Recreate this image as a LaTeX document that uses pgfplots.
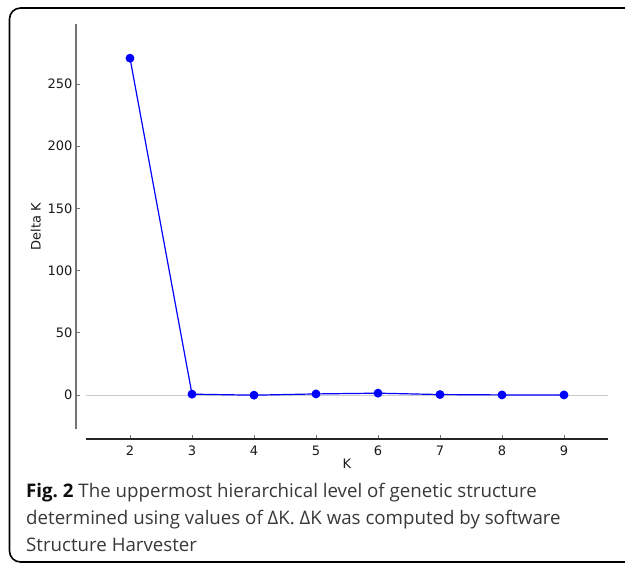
\documentclass[border=0pt]{standalone}
\usepackage{pgfplots}
\pgfplotsset{compat=1.18}
\usepackage{fontspec}
\setmainfont{DejaVu Sans}
\newfontfamily\capfont{Open Sans}
\begin{document}
\begin{tikzpicture}
\useasboundingbox (0,0) rectangle (625pt,-565pt);
\draw[line width=1.6pt, rounded corners=11pt] (9.5pt,-8pt) rectangle (660pt,-562pt);
\begin{axis}[
  at={(86pt,-429pt)}, anchor=south west,
  scale only axis, width=522pt, height=405pt,
  xmin=1.29, xmax=9.71, ymin=-27.4, ymax=298.2,
  axis x line=bottom, axis y line=left,
  axis x line shift=10pt, axis y line shift=10pt,
  x axis line style={-, black!85, line width=1.3pt},
  y axis line style={-, black!55, line width=1.3pt},
  tick align=inside,
  major tick length=4pt,
  tick style={black!55, line width=0.6pt},
  xtick={2,3,4,5,6,7,8,9},
  ytick={0,50,100,150,200,250},
  /pgf/number format/assume math mode=true,
  tick label style={font=\fontsize{13}{15}\selectfont, text=black!90},
  xticklabel style={yshift=-3pt},
  xlabel={K}, ylabel={Delta K},
  label style={font=\fontsize{13}{15}\selectfont, text=black!90},
  xlabel style={yshift=3pt},
  clip=false,
]
\addplot[black!20, line width=0.8pt] coordinates {(1.29,0) (9.71,0)};
\addplot[blue, line width=1.2pt, mark=*, mark size=3.8pt, mark options={fill=blue, draw=blue}]
  coordinates {(2,270.7) (3,0.6) (4,-0.2) (5,0.8) (6,1.4) (7,0.3) (8,0) (9,0)};
\end{axis}
\begin{scope}[every node/.style={anchor=base west, inner sep=0pt, text=black!78, font=\capfont\fontsize{18.7}{27}\selectfont}]
\node at (26pt,-497pt) {\textcolor{black!95}{\bfseries Fig.~2} The uppermost hierarchical level of genetic structure};
\node at (26pt,-524pt) {determined using values of ΔK. ΔK was computed by software};
\node at (26pt,-551pt) {Structure Harvester};
\end{scope}
\end{tikzpicture}
\end{document}
